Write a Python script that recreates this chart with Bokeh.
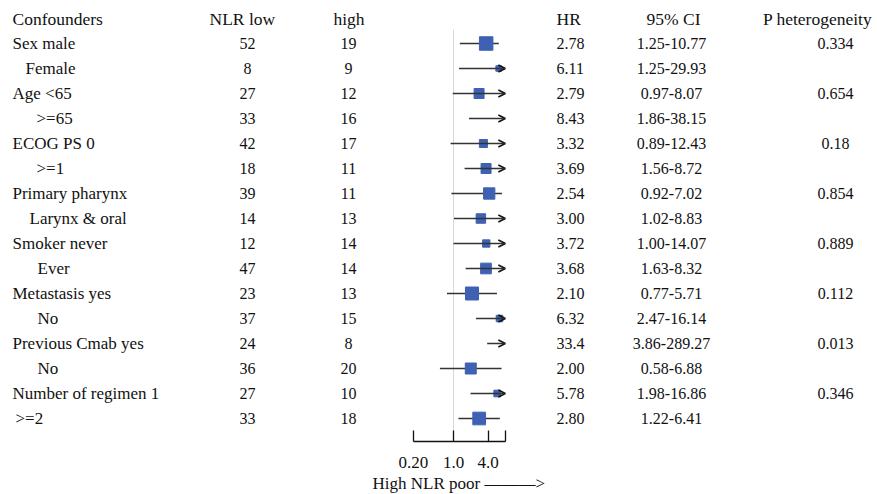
from bokeh.plotting import figure
from bokeh.models import (Range1d, LogScale, LogAxis, FixedTicker, ColumnDataSource,
                          Arrow, OpenHead, Title)
from bokeh.core.properties import value
from bokeh.embed import file_html
from bokeh.resources import INLINE

# ---------------- data ----------------
subgroups = ["Sex male", "Female", "Age <65", ">=65", "ECOG PS 0", ">=1",
             "Primary pharynx", "Larynx & oral", "Smoker never", "Ever",
             "Metastasis yes", "No", "Previous Cmab yes", "No",
             "Number of regimen 1", ">=2"]
nlr_low = [52, 8, 27, 33, 42, 18, 39, 14, 12, 47, 23, 37, 24, 36, 27, 33]
nlr_high = [19, 9, 12, 16, 17, 11, 11, 13, 14, 14, 13, 15, 8, 20, 10, 18]
hr = [2.78, 6.11, 2.79, 8.43, 3.32, 3.69, 2.54, 3.00, 3.72, 3.68, 2.10, 6.32,
      33.4, 2.00, 5.78, 2.80]
ci_low = [1.25, 1.25, 0.97, 1.86, 0.89, 1.56, 0.92, 1.02, 1.00, 1.63, 0.77,
          2.47, 3.86, 0.58, 1.98, 1.22]
ci_high = [10.77, 29.93, 8.07, 38.15, 12.43, 8.72, 7.02, 8.83, 14.07, 8.32,
           5.71, 16.14, 289.27, 6.88, 16.86, 6.41]
p_het = ["0.334", "", "0.654", "", "0.18", "", "0.854", "", "0.889", "",
         "0.112", "", "0.013", "", "0.346", ""]

# marks as drawn in the picture (rows 1 and 7 are drawn off the table values)
mark_hr = [3.71, 6.11, 2.79, 8.43, 3.32, 3.69, 4.19, 3.00, 3.72, 3.68, 2.10,
           6.32, 33.4, 2.00, 5.78, 2.80]
mark_lo = [1.29, 1.25, 0.97, 1.86, 0.89, 1.56, 0.92, 1.02, 1.00, 1.63, 0.77,
           2.47, 3.86, 0.58, 1.98, 1.22]
mark_hi = [6.15, 29.93, 8.07, 38.15, 12.43, 8.72, 7.02, 8.83, 14.07, 8.32,
           5.71, 16.14, 289.27, 6.88, 16.86, 6.41]
box_weight = [13.5, 5.5, 10, 0, 8, 10, 11.3, 9.5, 7.3, 10.7, 13, 6.5, 0, 11,
              6.7, 12.7]

tick_values = [0.2, 1.0, 4.0, 8.0]
tick_labels = ["0.20", "1.0", "4.0", ""]
headers = ["Confounders", "NLR low", "high", "HR", "95% CI", "P heterogeneity"]
axis_title = "High NLR poor \u2014\u2014\u2014>"

# ---------------- layout / style ----------------
FONT = value("Liberation Serif")
FS_HEAD = "17.5px"
FS_LAB = "17px"
FS_NUM = "16px"
BLUE = "#3f61b3"
LINE = "#333333"
W, H = 877, 494
FRAME_BOT = 441
ROW0_Y, ROW_H = 18, 25
X_ONE, PX_DEC = 453.0, 57.4          # pixel of HR=1 and pixels per decade
AX_MIN, AX_MAX = tick_values[0], tick_values[-1]
TITLE_LEFT = 372
indent = [0, 13, 0, 24, 0, 24, 0, 17, 0, 25, 0, 25, 0, 25, 0, 3]

n = len(subgroups)
rows = list(range(1, n + 1))
y_bot = (FRAME_BOT - ROW0_Y) / ROW_H
y_top = (0 - ROW0_Y) / ROW_H

hr_lo_lim = 10 ** ((0 - X_ONE) / PX_DEC)
hr_hi_lim = 10 ** ((W - X_ONE) / PX_DEC)

p = figure(frame_width=W, frame_height=FRAME_BOT,
           min_border_left=0, min_border_right=0, min_border_top=0,
           min_border_bottom=H - FRAME_BOT,
           x_range=Range1d(0, W),
           y_range=Range1d(y_bot, y_top),
           extra_x_ranges={"hr": Range1d(hr_lo_lim, hr_hi_lim)},
           extra_x_scales={"hr": LogScale()},
           x_axis_location=None, y_axis_location=None,
           toolbar_location=None, output_backend="svg")
p.outline_line_color = None
p.xgrid.visible = False
p.ygrid.visible = False
p.background_fill_color = "white"
p.border_fill_color = "white"

def txt(x, y, t, align, fs):
    p.text(x=x, y=y, text=t, text_font=FONT, text_font_size=fs,
           text_baseline="middle", text_align=align, text_color="#111111")

# header
txt([12], [0], [headers[0]], "left", FS_HEAD)
txt([209], [0], [headers[1]], "left", FS_HEAD)
txt([348.5], [0], [headers[2]], "center", FS_HEAD)
txt([556], [0], [headers[3]], "left", FS_HEAD)
txt([673], [0], [headers[4]], "center", FS_HEAD)
txt([762.5], [0], [headers[5]], "left", FS_HEAD)

# table columns
txt([12 + d for d in indent], rows, subgroups, "left", FS_LAB)
txt([247] * n, rows, [str(v) for v in nlr_low], "center", FS_NUM)
txt([348] * n, rows, [str(v) for v in nlr_high], "center", FS_NUM)
txt([556] * n, rows, [f"{v:.2f}" if v < 10 else f"{v:.1f}" for v in hr], "left", FS_NUM)
txt([671] * n, rows, [f"{a:.2f}-{b:.2f}" for a, b in zip(ci_low, ci_high)], "center", FS_NUM)
txt([835] * n, rows, p_het, "center", FS_NUM)

# reference line at HR = 1
p.segment(x0=[1.0], x1=[1.0], y0=[0.44], y1=[y_bot],
          x_range_name="hr", line_color="#d8d8d8", line_width=1)

# CIs
seg = [(lo, hi, r) for lo, hi, r in zip(mark_lo, mark_hi, rows) if hi <= AX_MAX]
p.segment(x0=[s[0] for s in seg], x1=[s[1] for s in seg], y0=[s[2] for s in seg],
          y1=[s[2] for s in seg], x_range_name="hr", line_color=LINE, line_width=1.5)

arr = [(lo, r) for lo, hi, r in zip(mark_lo, mark_hi, rows) if hi > AX_MAX]
arr_src = ColumnDataSource(dict(x0=[a[0] for a in arr], x1=[AX_MAX] * len(arr),
                                y=[a[1] for a in arr]))

# boxes
bx = [(h, r, w) for h, r, w in zip(mark_hr, rows, box_weight) if h <= AX_MAX]
p.scatter(x=[b[0] for b in bx], y=[b[1] for b in bx], size=[b[2] for b in bx],
          marker="square", fill_color=BLUE, line_color=BLUE, x_range_name="hr")

p.add_layout(Arrow(end=OpenHead(size=7, line_color="#111111", line_width=1.5),
                   x_start="x0", y_start="y", x_end="x1", y_end="y",
                   source=arr_src, x_range_name="hr",
                   line_color=LINE, line_width=1.5))

# axis
overrides = {}
for tv, tl in zip(tick_values, tick_labels):
    overrides[tv] = tl
    overrides[str(tv)] = tl
    if float(tv).is_integer():
        overrides[str(int(tv))] = tl
ax = LogAxis(x_range_name="hr", ticker=FixedTicker(ticks=tick_values, minor_ticks=[]),
             bounds=(AX_MIN, AX_MAX), major_label_overrides=overrides,
             major_tick_in=11, major_tick_out=0, minor_tick_line_color=None,
             axis_line_color="#111111", axis_line_width=1.3,
             major_tick_line_color="#111111", major_tick_line_width=1.3,
             major_label_standoff=15, major_label_text_font="Liberation Serif",
             major_label_text_font_size=FS_LAB, major_label_text_color="#111111")
p.add_layout(ax, "below")

p.add_layout(Title(text=axis_title, align="left", offset=TITLE_LEFT, standoff=4,
                   vertical_align="middle",
                   text_font="Liberation Serif", text_font_size=FS_LAB,
                   text_font_style="normal", text_color="#111111"), "below")

open("out.html", "w").write(file_html(p, INLINE))
